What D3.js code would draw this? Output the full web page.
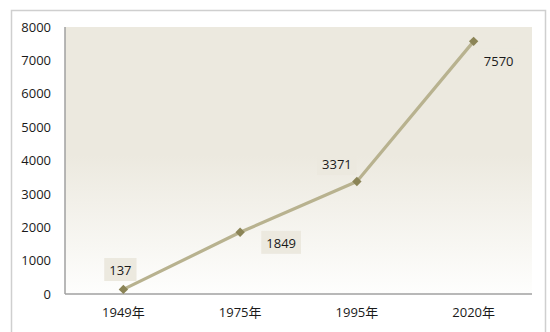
<!DOCTYPE html>
<html>
<head>
<meta charset="utf-8">
<script src="https://cdn.jsdelivr.net/npm/d3@7"></script>
<style>
  html, body { margin: 0; padding: 0; background: #fff; }
  svg { display: block; }
  text { font-family: "Open Sans", "Noto Sans CJK SC", sans-serif; fill: #1a1a1a; }
</style>
</head>
<body>
<svg id="chart" width="550" height="332"></svg>
<script>
const categories = ["1949年", "1975年", "1995年", "2020年"];
const values = [137, 1849, 3371, 7570];
const yTicks = [0, 1000, 2000, 3000, 4000, 5000, 6000, 7000, 8000];
// label placement relative to point: [dx, dy]
const labelPlacement = [[-3, -19], [41, 11], [-20, -17], [25, 20]];

const svg = d3.select("#chart");
const margin = { left: 65, top: 27, right: 18, bottom: 38 };
const W = 550, H = 332;
const plotW = W - margin.left - margin.right;
const plotH = H - margin.top - margin.bottom;

// outer frame
svg.append("path")
  .attr("d", `M11.5,${H} V10.5 H545.5 V${H}`)
  .attr("fill", "none").attr("stroke", "#cfcfcf").attr("stroke-width", 1.5);

const defs = svg.append("defs");
const grad = defs.append("linearGradient").attr("id", "bg").attr("x1", 0).attr("y1", 0).attr("x2", 0).attr("y2", 1);
grad.append("stop").attr("offset", "0%").attr("stop-color", "#ECE9DF");
grad.append("stop").attr("offset", "48%").attr("stop-color", "#ECE9DF");
grad.append("stop").attr("offset", "100%").attr("stop-color", "#FEFEFD");

const g = svg.append("g").attr("transform", `translate(${margin.left},${margin.top})`);

g.append("rect").attr("width", plotW).attr("height", plotH).attr("fill", "url(#bg)");

const x = d3.scaleBand().domain(categories).range([0, plotW]);
const y = d3.scaleLinear().domain([0, 8000]).range([plotH, 0]);

// axes
const yAxis = g.append("g").call(d3.axisLeft(y).tickValues(yTicks).tickFormat(d3.format("d")).tickSize(0).tickPadding(14));
yAxis.select(".domain").remove();
yAxis.selectAll("text").style("font-size", "13px").attr("fill", "#1a1a1a");

const xAxis = g.append("g").attr("transform", `translate(0,${plotH})`)
  .call(d3.axisBottom(x).tickSize(0).tickPadding(14));
xAxis.select(".domain").remove();
xAxis.selectAll("text").style("font-size", "13px").attr("fill", "#1a1a1a");

g.append("line").attr("x1", 0).attr("x2", 0).attr("y1", 0).attr("y2", plotH)
  .attr("stroke", "#a0a0a0").attr("stroke-width", 1.5);
g.append("line").attr("x1", 0).attr("x2", plotW).attr("y1", plotH).attr("y2", plotH)
  .attr("stroke", "#a0a0a0").attr("stroke-width", 1.5);

const pts = categories.map((c, i) => ({ c, v: values[i], i }));
const cx = d => x(d.c) + x.bandwidth() / 2;

g.append("path").datum(pts)
  .attr("d", d3.line().x(cx).y(d => y(d.v)))
  .attr("fill", "none").attr("stroke", "#B8B28F").attr("stroke-width", 3.2)
  .attr("stroke-linejoin", "round");

g.selectAll(".mk").data(pts).join("path")
  .attr("d", d3.symbol().type(d3.symbolSquare).size(44))
  .attr("transform", d => `translate(${cx(d)},${y(d.v)}) rotate(45)`)
  .attr("fill", "#8B8456");

const lbl = g.selectAll(".lbl").data(pts).join("g")
  .attr("transform", d => `translate(${cx(d) + labelPlacement[d.i][0]},${y(d.v) + labelPlacement[d.i][1]})`);
lbl.append("rect").attr("fill", "#ECE9DF");
lbl.append("text").attr("text-anchor", "middle").attr("dy", "0.35em")
  .style("font-size", "13px").text(d => d3.format("d")(d.v));
lbl.each(function () {
  const t = d3.select(this).select("text").node().getBBox();
  d3.select(this).select("rect")
    .attr("x", t.x - 5).attr("y", t.y - 3).attr("width", t.width + 10).attr("height", t.height + 5);
});
</script>
</body>
</html>
